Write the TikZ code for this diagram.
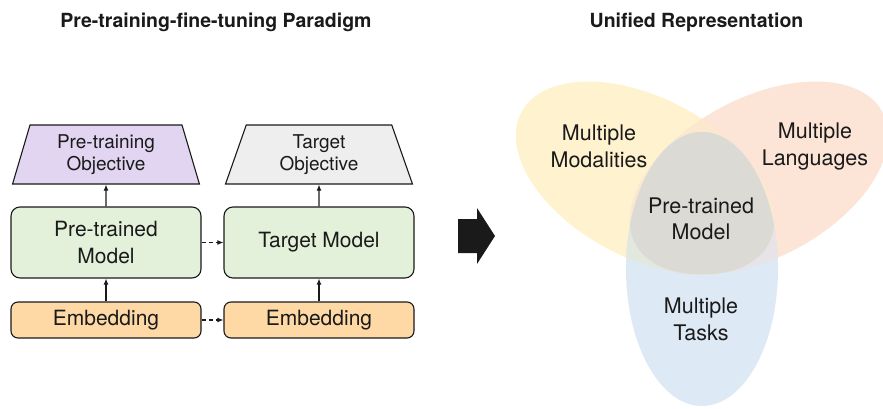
\documentclass[tikz,border=0pt]{standalone}
\usepackage{fontspec}
\setmainfont{TeX Gyre Heros}
\usetikzlibrary{shapes.geometric,arrows.meta}
\definecolor{txt}{RGB}{26,26,26}
\definecolor{purp}{RGB}{225,213,242}
\definecolor{greyb}{RGB}{238,238,238}
\definecolor{greenb}{RGB}{227,240,218}
\definecolor{orangeb}{RGB}{254,217,166}
\definecolor{yelc}{RGB}{255,242,207}
\definecolor{orac}{RGB}{252,228,214}
\definecolor{bluc}{RGB}{222,233,246}
\definecolor{yoc}{RGB}{252,232,206}
\definecolor{ybc}{RGB}{226,232,222}
\definecolor{obc}{RGB}{232,227,230}
\definecolor{tric}{RGB}{220,218,213}
\begin{document}
\begin{tikzpicture}[x=1pt,y=1pt,
  every node/.style={text=txt},
  boxfont/.style={font=\fontsize{21}{26.7}\selectfont},
  objfont/.style={font=\fontsize{19}{22.5}\selectfont},
  vennfont/.style={font=\fontsize{21.5}{26.5}\selectfont},
  titlefont/.style={font=\fontsize{19.5}{23}\selectfont\bfseries},
  objbox/.style={trapezium, trapezium stretches=true, trapezium angle=74.5,
    minimum width=187pt, minimum height=59pt, draw=txt, line width=1.1pt,
    align=center, objfont, inner sep=0pt},
  modelbox/.style={rectangle, rounded corners=9pt, draw=txt, line width=1.1pt,
    fill=greenb, minimum width=190pt, minimum height=71pt, align=center, boxfont},
  embbox/.style={rectangle, rounded corners=7pt, draw=txt, line width=1.1pt,
    fill=orangeb, minimum width=190pt, minimum height=36pt, boxfont},
  arr/.style={draw=txt, line width=1.1pt, -{Latex[length=6pt,width=5pt]}},
  darr/.style={arr, dash pattern=on 4pt off 3pt},
  yel/.style={rotate around={-28:(645,230)}},
  ora/.style={rotate around={28:(759,230)}},
]
\useasboundingbox (0,0) rectangle (883,408);

% titles
\node[titlefont] (t1) at (216,386) {Pre-training-fine-tuning Paradigm};
\node[titlefont] (t2) at (696.5,386) {Unified Representation};

% left column
\node[objbox, fill=purp] (pobj) at (106,253.5) {Pre-training\\Objective};
\node[modelbox] (ptm) at (106,165.5) {Pre-trained\\Model};
\node[embbox] (emb1) at (106,88) {Embedding};

% right column
\node[objbox, fill=greyb] (tobj) at (319,253.5) {Target\\Objective};
\node[modelbox] (tm) at (319,165.5) {Target Model};
\node[embbox] (emb2) at (319,88) {Embedding};

\draw[arr] (emb1.north) -- (ptm.south);
\draw[arr] (ptm.north) -- (pobj.south);
\draw[arr] (emb2.north) -- (tm.south);
\draw[arr] (tm.north) -- (tobj.south);
\draw[darr] (ptm.east) -- (tm.west);
\draw[darr] (emb1.east) -- (emb2.west);

% block arrow
\fill[txt] (458,189) -- (477,189) -- (477,200) -- (495,172) -- (477,144)
  -- (477,155) -- (458,155) -- cycle;

% Venn
\fill[yelc, yel] (645,230) ellipse [x radius=140, y radius=80];
\fill[orac, ora] (759,230) ellipse [x radius=140, y radius=80];
\fill[bluc] (702,139) ellipse [x radius=76, y radius=137];
\begin{scope}
  \clip[yel] (645,230) ellipse [x radius=140, y radius=80];
  \fill[yoc, ora] (759,230) ellipse [x radius=140, y radius=80];
  \fill[ybc] (702,139) ellipse [x radius=76, y radius=137];
\end{scope}
\begin{scope}
  \clip[ora] (759,230) ellipse [x radius=140, y radius=80];
  \fill[obc] (702,139) ellipse [x radius=76, y radius=137];
\end{scope}
\begin{scope}
  \clip[yel] (645,230) ellipse [x radius=140, y radius=80];
  \clip[ora] (759,230) ellipse [x radius=140, y radius=80];
  \fill[tric] (702,139) ellipse [x radius=76, y radius=137];
\end{scope}

\node[vennfont, align=center] (mm) at (599,261.5) {Multiple\\Modalities};
\node[vennfont, align=center] (ml) at (815,261.5) {Multiple\\Languages};
\node[vennfont, align=center] (pm) at (701,189) {Pre-trained\\Model};
\node[vennfont, align=center] (mt) at (701,88.5) {Multiple\\Tasks};
\end{tikzpicture}
\end{document}
